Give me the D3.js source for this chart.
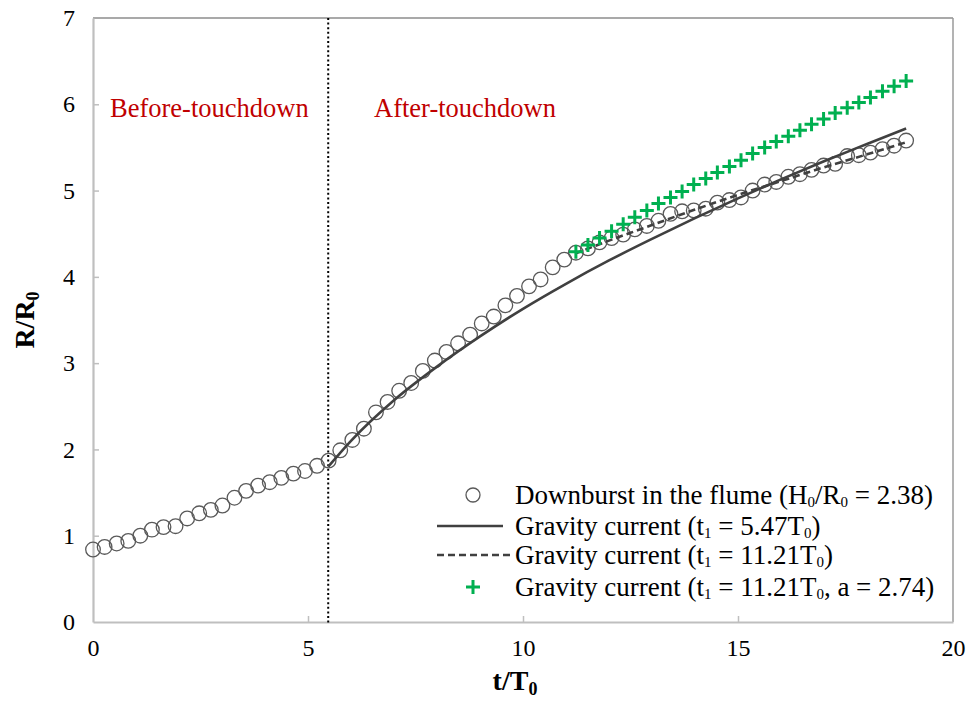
<!DOCTYPE html>
<html>
<head>
<meta charset="utf-8">
<script src="https://cdn.jsdelivr.net/npm/d3@7"></script>
<style>
  html, body { margin: 0; padding: 0; background: #fff; }
  svg text { font-family: "Liberation Serif", "Times New Roman", serif; }
</style>
</head>
<body>
<svg id="chart" width="972" height="702"></svg>
<script>
// Downburst front position in the flume, t/T0 vs R/R0
const flumeT = [0.00, 0.27, 0.55, 0.82, 1.10, 1.37, 1.64, 1.92, 2.19, 2.47,
  2.74, 3.01, 3.29, 3.56, 3.84, 4.11, 4.38, 4.66, 4.93, 5.21,
  5.48, 5.75, 6.03, 6.30, 6.58, 6.85, 7.12, 7.40, 7.67, 7.95,
  8.22, 8.49, 8.77, 9.04, 9.32, 9.59, 9.86, 10.14, 10.41, 10.69,
  10.96, 11.23, 11.51, 11.78, 12.06, 12.33, 12.60, 12.88, 13.15, 13.43,
  13.70, 13.97, 14.25, 14.52, 14.80, 15.07, 15.34, 15.62, 15.89, 16.17,
  16.44, 16.71, 16.99, 17.26, 17.54, 17.81, 18.08, 18.36, 18.63, 18.91];
const flumeR = [0.84, 0.87, 0.91, 0.94, 1.00, 1.07, 1.10, 1.11, 1.20, 1.26,
  1.30, 1.35, 1.44, 1.52, 1.58, 1.62, 1.67, 1.72, 1.75, 1.81,
  1.87, 1.99, 2.11, 2.24, 2.43, 2.55, 2.68, 2.77, 2.91, 3.03,
  3.13, 3.23, 3.33, 3.46, 3.54, 3.67, 3.78, 3.89, 3.97, 4.11,
  4.20, 4.28, 4.33, 4.40, 4.45, 4.49, 4.55, 4.59, 4.65, 4.73,
  4.76, 4.77, 4.79, 4.86, 4.89, 4.92, 5.00, 5.07, 5.10, 5.16,
  5.19, 5.24, 5.29, 5.31, 5.40, 5.41, 5.44, 5.48, 5.52, 5.58];

// Gravity current, t1 = 5.47 T0
const gc1T = [5.47, 6, 7, 8, 9, 10, 11, 12, 13, 14, 15, 16, 17, 18, 18.91];
const gc1R = [1.80, 2.10, 2.57, 2.96, 3.31, 3.63, 3.92, 4.19, 4.44, 4.68, 4.91, 5.13, 5.34, 5.54, 5.72];

// Gravity current, t1 = 11.21 T0
const gc2T = [11.21, 12, 13, 14, 15, 16, 17, 18, 18.91];
const gc2R = [4.27, 4.42, 4.60, 4.78, 4.95, 5.11, 5.27, 5.42, 5.56];

// Gravity current, t1 = 11.21 T0, a = 2.74
const gc3T = [11.23, 11.51, 11.78, 12.06, 12.33, 12.60, 12.88, 13.15, 13.43, 13.70,
  13.97, 14.25, 14.52, 14.80, 15.07, 15.34, 15.62, 15.89, 16.17, 16.44,
  16.71, 16.99, 17.26, 17.54, 17.81, 18.08, 18.36, 18.63, 18.91];
const gc3R = [4.29, 4.37, 4.45, 4.53, 4.61, 4.69, 4.77, 4.85, 4.92, 4.99,
  5.07, 5.14, 5.21, 5.28, 5.35, 5.43, 5.50, 5.57, 5.63, 5.70,
  5.77, 5.83, 5.90, 5.96, 6.02, 6.08, 6.15, 6.21, 6.27];

const touchdownT = 5.47;
const xTicks = [0, 5, 10, 15, 20];
const yTicks = [0, 1, 2, 3, 4, 5, 6, 7];

const SERIF = "Liberation Serif";
const svg = d3.select("#chart");
const x = d3.scaleLinear().domain([0, 20]).range([93, 953]);
const y = d3.scaleLinear().domain([0, 7]).range([622, 18]);

// frame: top and right edges
svg.append("line").attr("x1", x(0)).attr("x2", x(20)).attr("y1", y(7)).attr("y2", y(7))
  .attr("stroke", "#8c8c8c").attr("stroke-width", 1.5);
svg.append("line").attr("x1", x(20)).attr("x2", x(20)).attr("y1", y(7)).attr("y2", y(0))
  .attr("stroke", "#9a9a9a").attr("stroke-width", 1.5);

// axes
const xAxis = svg.append("g").attr("transform", `translate(0,${y(0)})`)
  .call(d3.axisBottom(x).tickValues(xTicks).tickFormat(d3.format("d"))
    .tickSizeInner(-6).tickSizeOuter(0).tickPadding(17));
const yAxis = svg.append("g").attr("transform", `translate(${x(0)},0)`)
  .call(d3.axisLeft(y).tickValues(yTicks).tickFormat(d3.format("d"))
    .tickSizeInner(-6).tickSizeOuter(0).tickPadding(18));
[xAxis, yAxis].forEach(g => {
  g.attr("font-family", SERIF).attr("font-size", 24);
  g.select(".domain").attr("stroke", "#bfbfbf").attr("stroke-width", 2.2);
  g.selectAll(".tick line").attr("stroke", "#bfbfbf").attr("stroke-width", 1.5);
  g.selectAll(".tick text").attr("fill", "#000");
});
xAxis.selectAll(".tick").filter(d => d === 0 || d === 20).select("line").remove();
yAxis.selectAll(".tick").filter(d => d === 0 || d === 7).select("line").remove();

// touchdown marker
svg.append("line").attr("x1", x(touchdownT)).attr("x2", x(touchdownT))
  .attr("y1", y(7)).attr("y2", y(0) + 2)
  .attr("stroke", "#000").attr("stroke-width", 2).attr("stroke-dasharray", "2,2.6");

// region labels
svg.append("text").attr("x", 110).attr("y", 117).attr("fill", "#c00000")
  .attr("font-family", SERIF).attr("font-size", 26.5).text("Before-touchdown");
svg.append("text").attr("x", 374).attr("y", 117).attr("fill", "#c00000")
  .attr("font-family", SERIF).attr("font-size", 26.5).text("After-touchdown");

// flume measurements
svg.append("g").selectAll("circle").data(flumeT).join("circle")
  .attr("cx", (d) => x(d)).attr("cy", (d, i) => y(flumeR[i])).attr("r", 7.3)
  .attr("fill", "none").attr("stroke", "#595959").attr("stroke-width", 1.3);

const line = d3.line().x(d => x(d[0])).y(d => y(d[1])).curve(d3.curveMonotoneX);
svg.append("path").datum(gc1T.map((t, i) => [t, gc1R[i]])).attr("d", line)
  .attr("fill", "none").attr("stroke", "#404040").attr("stroke-width", 2.6);
svg.append("path").datum(gc2T.map((t, i) => [t, gc2R[i]])).attr("d", line)
  .attr("fill", "none").attr("stroke", "#404040").attr("stroke-width", 2.6)
  .attr("stroke-dasharray", "7,4");

function plusPath(cx, cy, s) {
  return `M${cx - s},${cy}H${cx + s}M${cx},${cy - s}V${cy + s}`;
}
svg.append("g").selectAll("path").data(gc3T).join("path")
  .attr("d", (d, i) => plusPath(x(d), y(gc3R[i]), 7))
  .attr("stroke", "#00b050").attr("stroke-width", 3).attr("fill", "none");

// legend
const legend = svg.append("g").attr("font-family", SERIF).attr("font-size", 27);
const rows = [495, 526, 555, 587];
legend.append("circle").attr("cx", 473).attr("cy", rows[0]).attr("r", 7)
  .attr("fill", "none").attr("stroke", "#595959").attr("stroke-width", 1.3);
legend.append("line").attr("x1", 437).attr("x2", 503).attr("y1", rows[1]).attr("y2", rows[1])
  .attr("stroke", "#404040").attr("stroke-width", 2.6);
legend.append("line").attr("x1", 437).attr("x2", 510).attr("y1", rows[2]).attr("y2", rows[2])
  .attr("stroke", "#404040").attr("stroke-width", 2.6).attr("stroke-dasharray", "7,4");
legend.append("path").attr("d", plusPath(473, rows[3], 7))
  .attr("stroke", "#00b050").attr("stroke-width", 3).attr("fill", "none");

// text with small lowered subscripts; parts alternate plain text and subscripts
function richText(g, xPos, yPos, parts) {
  const t = g.append("text").attr("x", xPos).attr("y", yPos + 9);
  let lowered = false;
  parts.forEach(p => {
    if (typeof p === "string") {
      t.append("tspan").attr("dy", lowered ? -3 : 0).text(p);
      lowered = false;
    } else {
      t.append("tspan").attr("font-size", 15).attr("dy", 3).text(p.sub);
      lowered = true;
    }
  });
  return t;
}
richText(legend, 515, rows[0], ["Downburst in the flume (H", {sub: "0"}, "/R", {sub: "0"}, " = 2.38)"]);
richText(legend, 515, rows[1], ["Gravity current (t", {sub: "1"}, " = 5.47T", {sub: "0"}, ")"]);
richText(legend, 515, rows[2], ["Gravity current (t", {sub: "1"}, " = 11.21T", {sub: "0"}, ")"]);
richText(legend, 515, rows[3], ["Gravity current (t", {sub: "1"}, " = 11.21T", {sub: "0"}, ", a = 2.74)"]);

// axis titles
const xt = svg.append("text").attr("x", 515).attr("y", 690).attr("text-anchor", "middle")
  .attr("font-family", SERIF).attr("font-size", 28).attr("font-weight", "bold");
xt.append("tspan").text("t/T");
xt.append("tspan").attr("font-size", 18).attr("dy", 5).text("0");

const yt = svg.append("text").attr("transform", `translate(34,${y(3.5)}) rotate(-90)`)
  .attr("text-anchor", "middle").attr("font-family", SERIF)
  .attr("font-size", 28).attr("font-weight", "bold");
yt.append("tspan").text("R/R");
yt.append("tspan").attr("font-size", 18).attr("dy", 5).text("0");
</script>
</body>
</html>
